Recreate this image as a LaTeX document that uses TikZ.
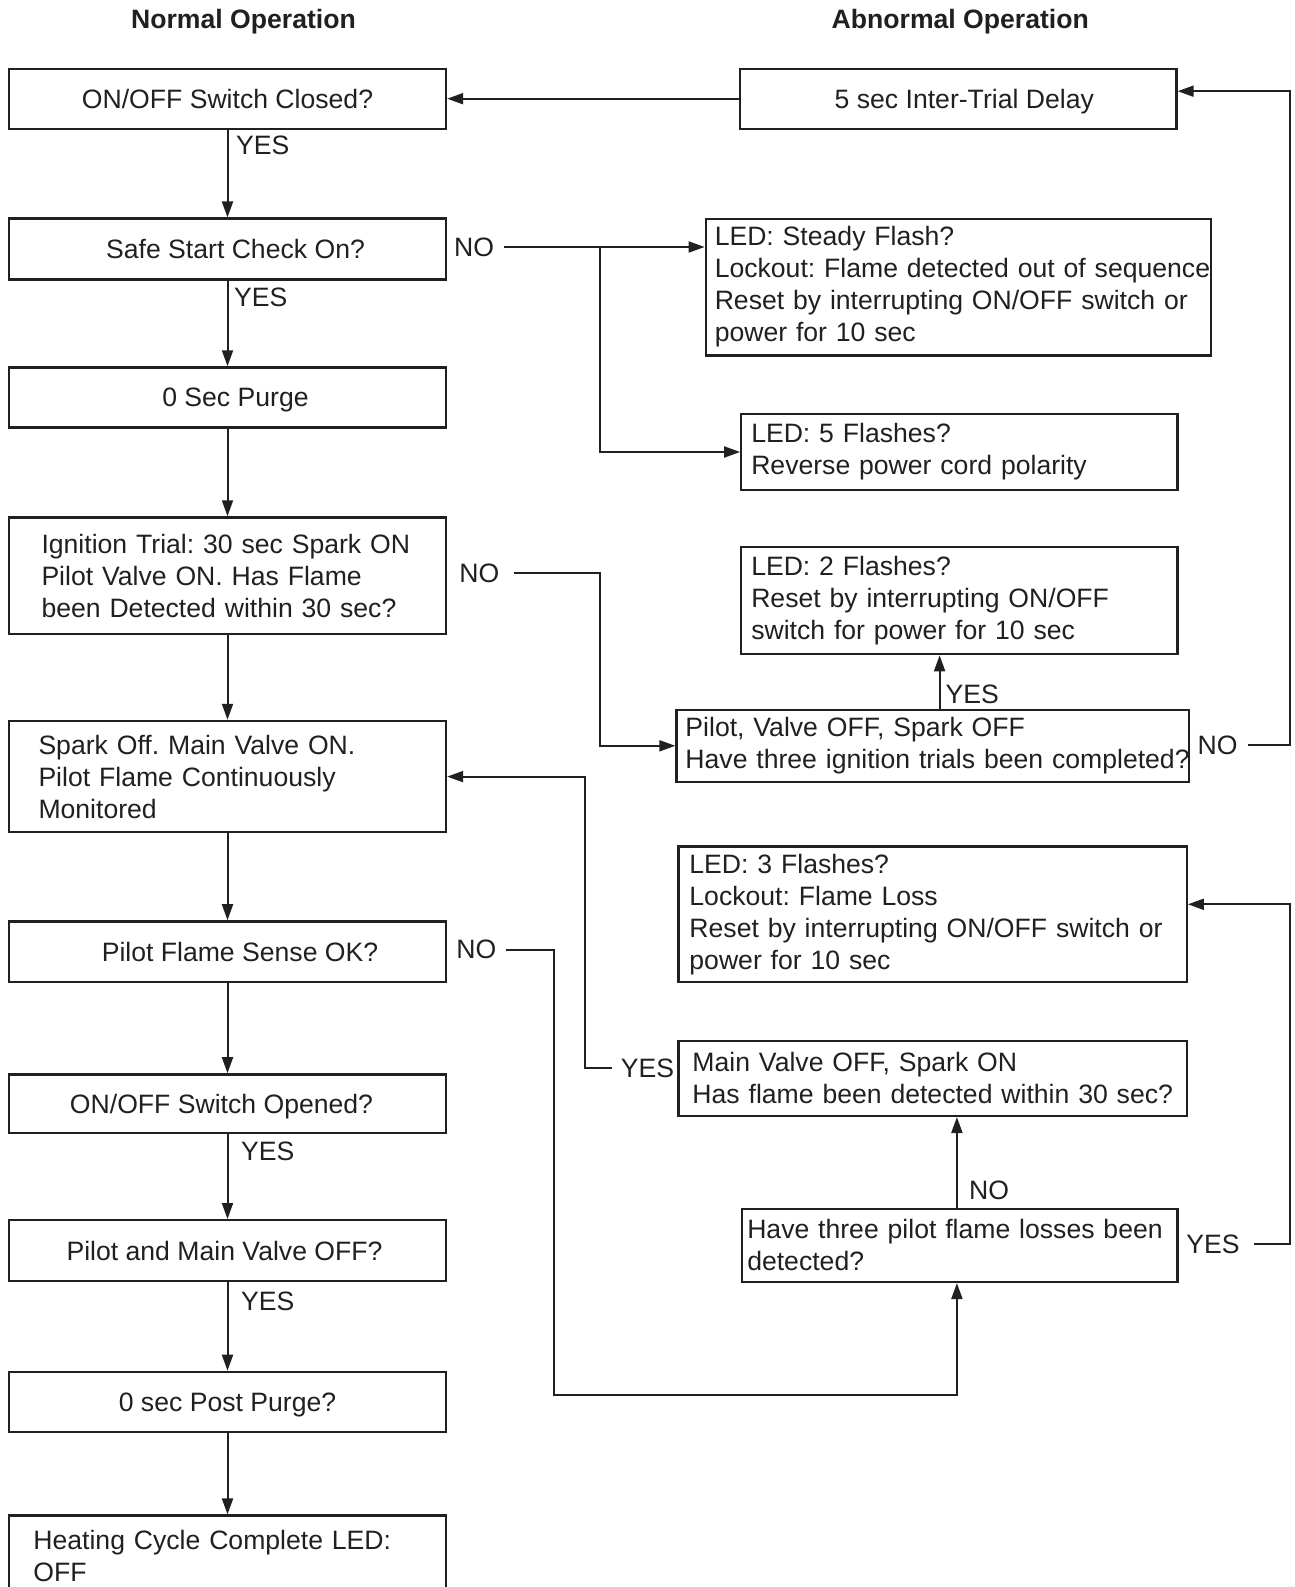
\documentclass[tikz,border=0pt]{standalone}
\usepackage{fontspec}
\setmainfont{Liberation Sans}
\usetikzlibrary{arrows.meta}
\definecolor{ink}{RGB}{35,31,32}
\frenchspacing
\begin{document}
\begin{tikzpicture}[x=1pt,y=-1pt,
  every node/.style={font=\fontsize{26.6}{32}\selectfont\frenchspacing, text=ink},
  bx/.style={draw=ink, line width=2.3pt, inner ysep=0pt},
  sbx/.style={bx, text depth=0pt},
  lbx/.style={bx, align=left},
  lab/.style={inner sep=0pt},
  ttl/.style={font=\fontsize{26.6}{32}\selectfont\bfseries, inner sep=0pt, anchor=base},
  arr/.style={draw=ink, line width=2pt, -{Triangle[length=16pt,width=11pt]}}
]
\useasboundingbox (0,0) rectangle (1295,1587);
\clip (0,0) rectangle (1295,1587);

% titles
\node[ttl] (t1) at (243.5,29) {Normal Operation};
\node[ttl] (t2) at (960.3,29) {Abnormal Operation};

% left column
\node[sbx, minimum width=437pt, minimum height=60pt] (b1) at (227.5,98.7) {ON/OFF Switch Closed?};
\node[sbx, minimum width=437pt, minimum height=61pt] (b2) at (227.5,249.1) {\hspace*{16pt}Safe Start Check On?};
\node[sbx, minimum width=437pt, minimum height=60pt] (b3) at (227.5,397.4) {\hspace*{16pt}0 Sec Purge};
\node[lbx, minimum height=116.4pt, inner xsep=32.5pt, text width=372pt] (b4) at (227.5,575.6)
  {\mbox{Ignition Trial: 30 sec Spark ON}\\Pilot Valve ON. Has Flame\\been Detected within 30 sec?};
\node[lbx, minimum height=111.4pt, inner xsep=29.5pt, text width=378pt] (b5) at (227.5,776.6)
  {Spark Off. Main Valve ON.\\Pilot Flame Continuously\\Monitored};
\node[sbx, minimum width=437pt, minimum height=60.7pt] (b6) at (227.5,951.7) {\hspace*{25pt}Pilot Flame Sense OK?};
\node[sbx, minimum width=437pt, minimum height=58.7pt] (b7) at (227.5,1103.7) {ON/OFF Switch Opened?\hspace*{12pt}};
\node[sbx, minimum width=437pt, minimum height=60.7pt] (b8) at (227.5,1250.5) {Pilot and Main Valve OFF?\hspace*{6pt}};
\node[sbx, minimum width=437pt, minimum height=60pt] (b9) at (227.5,1401.8) {0 sec Post Purge?};
\node[lbx, minimum height=81pt, inner xsep=24.4pt, text width=388.2pt] (b10) at (227.5,1556)
  {Heating Cycle Complete LED:\\OFF};

% right column
\node[sbx, minimum width=436.4pt, minimum height=60pt] (r1) at (958.3,98.7) {\hspace*{12pt}5 sec Inter-Trial Delay};
\node[lbx, minimum height=136.7pt, inner xsep=9pt, text width=487.3pt] (r2) at (958.4,287)
  {\mbox{LED: Steady Flash?}\\\mbox{Lockout: Flame detected out of sequence}\\\mbox{Reset by interrupting ON/OFF switch or}\\\mbox{power for 10 sec}};
\node[lbx, minimum height=76pt, inner xsep=10pt, text width=416.3pt] (r3) at (959.4,452)
  {\mbox{LED: 5 Flashes?}\\\mbox{Reverse power cord polarity}};
\node[lbx, minimum height=107.3pt, inner xsep=10pt, text width=416.3pt] (r4) at (959.4,600.5)
  {\mbox{LED: 2 Flashes?}\\\mbox{Reset by interrupting ON/OFF}\\\mbox{switch for power for 10 sec}};
\node[lbx, minimum height=72pt, inner xsep=9pt, text width=494.3pt] (r5) at (932.6,745.8)
  {\mbox{Pilot, Valve OFF, Spark OFF}\\\mbox{Have three ignition trials been completed?}};
\node[lbx, minimum height=135.6pt, inner xsep=11pt, text width=486.3pt] (r6) at (932.6,914.3)
  {\mbox{LED: 3 Flashes?}\\\mbox{Lockout: Flame Loss}\\\mbox{Reset by interrupting ON/OFF switch or}\\\mbox{power for 10 sec}};
\node[lbx, minimum height=75pt, inner xsep=14pt, text width=480.3pt] (r7) at (932.6,1078.4)
  {\mbox{Main Valve OFF, Spark ON}\\\mbox{Has flame been detected within 30 sec?}};
\node[lbx, minimum height=73pt, inner xsep=5pt, text width=425.3pt] (r8) at (959.9,1245.4)
  {\mbox{Have three pilot flame losses been}\\\mbox{detected?}};

% labels
\node[lab, anchor=west] (y1) at (236,145.8) {YES};
\node[lab, anchor=west] (y2) at (234,297.7) {YES};
\node[lab, anchor=west] (y3) at (241,1151.2) {YES};
\node[lab, anchor=west] (y4) at (241,1301) {YES};
\node[lab] (no1) at (474,247) {NO};
\node[lab] (no2) at (479.4,573) {NO};
\node[lab] (no3) at (476.3,949.7) {NO};
\node[lab] (no4) at (1217.5,745.2) {NO};
\node[lab, anchor=west] (no5) at (969,1190.7) {NO};
\node[lab, anchor=west] (yes5) at (945.4,694.6) {YES};
\node[lab] (yes6) at (1213,1244.4) {YES};
\node[lab] (yes7) at (647.5,1068.2) {YES};

% left column arrows
\draw[arr] (b1.south) -- (b2.north);
\draw[arr] (b2.south) -- (b3.north);
\draw[arr] (b3.south) -- (b4.north);
\draw[arr] (b4.south) -- (b5.north);
\draw[arr] (b5.south) -- (b6.north);
\draw[arr] (b6.south) -- (b7.north);
\draw[arr] (b7.south) -- (b8.north);
\draw[arr] (b8.south) -- (b9.north);
\draw[arr] (b9.south) -- (b10.north);

% right side connectors
\draw[arr] (r1.west) -- (b1.east);

\coordinate (j1) at (600.4,247);
\draw[arr] ([xshift=10pt]no1.east) -- (r2.west |- no1.east);
\draw[arr] (j1) |- (r3.west);

\coordinate (j2) at (600.4,573);
\draw[arr] ([xshift=14pt]no2.east) -- (j2) |- (r5.west);

\draw[arr] ([xshift=7pt]r5.north) -- ([xshift=7pt]r5.north |- r4.south);

\coordinate (j3) at (1290,745.2);
\draw[arr] ([xshift=10pt]no4.east) -- (j3) |- ([yshift=7.5pt]r1.east);

\coordinate (j4) at (553.8,949.7);
\coordinate (j5) at (553.8,1395.2);
\draw[arr] ([xshift=10pt]no3.east) -- (j4) -- (j5) -| ([xshift=-3pt]r8.south);

\draw[arr] ([xshift=-3pt]r8.north) -- ([xshift=-3pt]r8.north |- r7.south);

\coordinate (j6) at (1290,1244.4);
\draw[arr] ([xshift=14pt]yes6.east) -- (j6) |- ([yshift=10pt]r6.east);

\coordinate (j7) at (585.2,1068.2);
\draw[arr] ([xshift=-9pt]yes7.west) -- (j7) |- (b5.east);
\end{tikzpicture}
\end{document}
